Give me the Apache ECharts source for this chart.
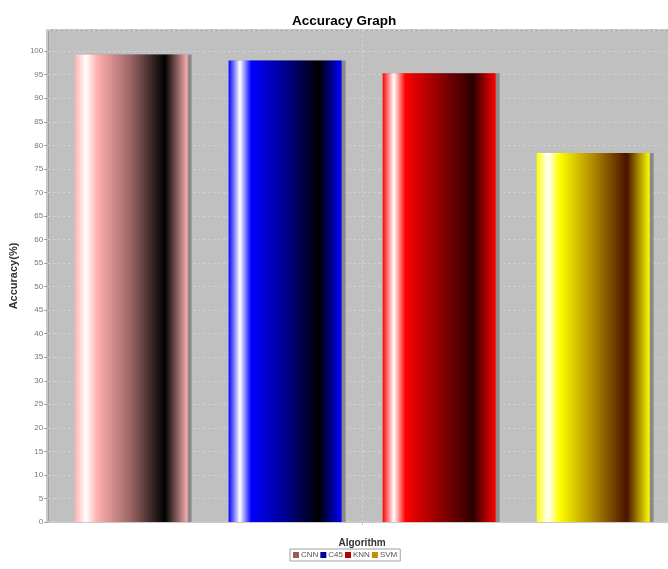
<!DOCTYPE html>
<html>
<head>
<meta charset="utf-8">
<script src="https://cdn.jsdelivr.net/npm/echarts@6/dist/echarts.min.js"></script>
<style>html,body{margin:0;padding:0;background:#fff;overflow:hidden;width:668px;height:569px;}#c{width:700px;height:569px;}</style>
</head>
<body>
<div id="c"></div>
<script>
const categories = ['Algorithm'];
const seriesNames = ['CNN', 'C45', 'KNN', 'SVM'];
const cnnValues = [99.3];
const c45Values = [98.0];
const knnValues = [95.3];
const svmValues = [78.4];
const yTicks = { min: 0, max: 104.5, interval: 5 };

const baseColors = ['#ffafaf', '#0000ff', '#ff0000', '#ffff00'];
const midColors = ['#9a6464', '#000090', '#900000', '#b08800'];
const darkColors = ['#000000', '#000000', '#2a0000', '#4a1200'];
const legendColors = ['#9a5a5a', '#0000a0', '#b00000', '#c09000'];
const allValues = [cnnValues, c45Values, knnValues, svmValues];

function grad(i) {
  return {
    type: 'linear', x: 0, y: 0, x2: 1, y2: 0,
    colorStops: [
      { offset: 0, color: baseColors[i] },
      { offset: 0.1, color: '#ffffff' },
      { offset: 0.2, color: baseColors[i] },
      { offset: 0.5, color: midColors[i] },
      { offset: 0.8, color: darkColors[i] },
      { offset: 1, color: baseColors[i] }
    ]
  };
}

const font = '"Liberation Sans", Arial, sans-serif';
const chart = echarts.init(document.getElementById('c'), null, { renderer: 'canvas' });
chart.setOption({
  animation: false,
  backgroundColor: '#ffffff',
  title: {
    text: 'Accuracy Graph',
    left: 287, top: 9,
    textStyle: { fontFamily: font, fontWeight: 'bold', fontSize: 13.5, color: '#000' }
  },
  legend: {
    data: seriesNames.map((n, i) => ({ name: n, itemStyle: { color: legendColors[i] } })),
    left: 290, top: 549,
    itemWidth: 6, itemHeight: 6, itemGap: 2,
    icon: 'rect',
    padding: [2, 3, 2, 3],
    borderColor: '#a0a0a0', borderWidth: 1,
    textStyle: { fontFamily: font, fontSize: 8, color: '#555', padding: [0, 0, 0, -3] }
  },
  grid: {
    left: 44, top: 30, right: 24, bottom: 47,
    show: true, backgroundColor: '#c0c0c0', borderColor: '#909090', borderWidth: 1
  },
  xAxis: {
    type: 'category',
    data: categories,
    name: 'Algorithm',
    nameLocation: 'middle',
    nameGap: 15,
    nameTextStyle: { fontFamily: font, fontWeight: 'bold', fontSize: 10, color: '#333' },
    offset: 1,
    axisLine: { show: true, lineStyle: { color: '#c8c8c8', width: 2 } },
    axisTick: { show: true, alignWithLabel: true, length: 3, lineStyle: { color: '#c8c8c8' } },
    axisLabel: { show: false },
    splitLine: { show: true, alignWithLabel: true, lineStyle: { color: '#d6d6d6', type: [2, 3], width: 1 } }
  },
  yAxis: {
    type: 'value',
    min: yTicks.min, max: yTicks.max, interval: yTicks.interval,
    name: 'Accuracy(%)',
    nameLocation: 'middle',
    nameGap: 24,
    nameRotate: 90,
    nameTextStyle: { fontFamily: font, fontWeight: 'bold', fontSize: 11, color: '#333' },
    offset: 1,
    axisLine: { show: true, lineStyle: { color: '#c8c8c8', width: 2 } },
    axisTick: { show: true, length: 3, lineStyle: { color: '#999' } },
    axisLabel: { showMaxLabel: false, fontFamily: font, fontSize: 8, color: '#777', margin: 4 },
    splitLine: { show: true, lineStyle: { color: '#d6d6d6', type: [2, 3], width: 1 } }
  },
  series: seriesNames.map((n, i) => ({
    name: n,
    type: 'bar',
    data: allValues[i],
    barWidth: 113,
    barGap: '36.3%',
    itemStyle: {
      color: grad(i),
      shadowColor: '#8a8a8a', shadowOffsetX: 4, shadowOffsetY: 0, shadowBlur: 0
    }
  }))
});
</script>
</body>
</html>
